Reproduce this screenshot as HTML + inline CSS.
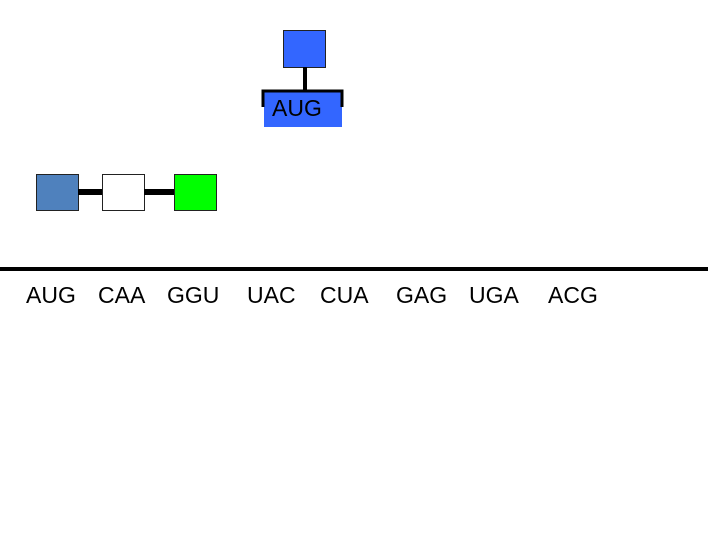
<!DOCTYPE html>
<html><head><style>
body{margin:0;width:720px;height:540px;background:#fff;position:relative;overflow:hidden;font-family:"Liberation Sans",sans-serif;}
.a{position:absolute;}
.w{position:absolute;top:282px;font-size:23px;color:#000;line-height:26px;}
</style></head><body>
<div class="a" style="left:283px;top:30px;width:41px;height:36px;background:#3366ff;border:1px solid #222;"></div>
<div class="a" style="left:303px;top:67px;width:4px;height:25px;background:#000;"></div>
<div class="a" style="left:264px;top:91px;width:78px;height:36px;background:#3366ff;"></div>
<svg class="a" style="left:0;top:0" width="720" height="540">
<path d="M263 107 V91 H342 V107" fill="none" stroke="#000" stroke-width="3"/>
</svg>
<div class="a" style="left:272px;top:94px;font-size:23px;line-height:28px;">AUG</div>
<div class="a" style="left:36px;top:174px;width:41px;height:35px;background:#4f81bd;border:1px solid #222;"></div>
<div class="a" style="left:78px;top:189px;width:24px;height:6px;background:#000;"></div>
<div class="a" style="left:102px;top:174px;width:41px;height:35px;background:#fff;border:1px solid #222;"></div>
<div class="a" style="left:144px;top:189px;width:30px;height:6px;background:#000;"></div>
<div class="a" style="left:174px;top:174px;width:41px;height:35px;background:#00ff00;border:1px solid #222;"></div>
<div class="a" style="left:0;top:267px;width:708px;height:4px;background:#000;"></div>
<div class="w" style="left:26px">AUG</div>
<div class="w" style="left:98px">CAA</div>
<div class="w" style="left:167px">GGU</div>
<div class="w" style="left:247px">UAC</div>
<div class="w" style="left:320px">CUA</div>
<div class="w" style="left:396px">GAG</div>
<div class="w" style="left:469px">UGA</div>
<div class="w" style="left:548px">ACG</div>
</body></html>
